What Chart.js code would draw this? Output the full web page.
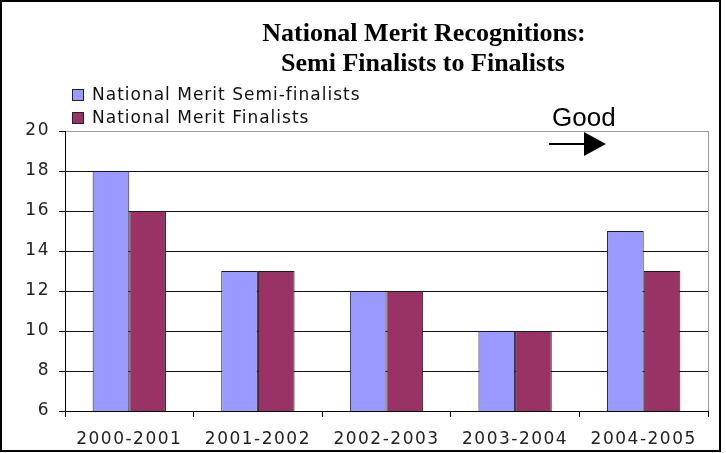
<!DOCTYPE html>
<html>
<head>
<meta charset="utf-8">
<script src="https://cdn.jsdelivr.net/npm/chart.js@4"></script>
<style>
  html, body { margin: 0; padding: 0; background: #fff; }
  #wrap { width: 726px; height: 453px; }
</style>
</head>
<body>
<div id="wrap"><canvas id="myChart" width="726" height="453"></canvas></div>
<script>
// chart data
const years = ['2000-2001', '2001-2002', '2002-2003', '2003-2004', '2004-2005'];
const semiFinalists = [18, 13, 12, 10, 15];
const finalists = [16, 13, 12, 10, 13];
const seriesNames = ['National Merit Semi-finalists', 'National Merit Finalists'];
const titleLines = ['National Merit Recognitions:', 'Semi Finalists to Finalists'];
const noteText = 'Good';
const yMin = 6, yMax = 20, yStep = 2;

const ctx = document.getElementById('myChart').getContext('2d');

// wider spacing for the axis text (the original uses a wide sans font)
const spacing = {
    id: 'spacing',
    beforeLayout: function (chart) { chart.ctx.letterSpacing = '1.5px'; },
    beforeDraw: function (chart) { chart.ctx.letterSpacing = '1.5px'; }
};

// title, legend, arrow note and frame drawn by hand
const decorations = {
    id: 'decorations',
    afterDraw: function (chart) {
        var c = chart.ctx;
        var area = chart.chartArea;
        c.save();
        c.letterSpacing = '0px';

        // plot area right edge
        c.strokeStyle = '#999';
        c.lineWidth = 1;
        c.beginPath();
        c.moveTo(Math.round(area.right) + 0.5, area.top);
        c.lineTo(Math.round(area.right) + 0.5, area.bottom);
        c.stroke();

        // outer frame
        c.strokeStyle = '#000';
        c.lineWidth = 2;
        c.strokeRect(1, 1, 719, 450);

        // title
        c.fillStyle = '#000';
        c.font = 'bold 26px "Liberation Serif"';
        c.textAlign = 'center';
        c.textBaseline = 'alphabetic';
        c.fillText(titleLines[0], 424, 41);
        c.fillText(titleLines[1], 423, 71);

        // legend
        c.font = '17px "DejaVu Sans"';
        c.letterSpacing = '1px';
        c.textAlign = 'left';
        c.textBaseline = 'middle';
        chart.data.datasets.forEach(function (ds, i) {
            var y = 95 + i * 23;
            c.fillStyle = ds.backgroundColor;
            c.fillRect(72, y - 6, 12, 12);
            c.strokeStyle = '#222';
            c.lineWidth = 1;
            c.strokeRect(72.5, y - 5.5, 11, 11);
            c.fillStyle = '#111';
            c.fillText(ds.label, 92, y + 1);
        });
        c.letterSpacing = '0px';

        // "Good" with arrow
        c.fillStyle = '#000';
        c.font = '26px "Liberation Sans"';
        c.textAlign = 'left';
        c.textBaseline = 'alphabetic';
        c.fillText(noteText, 552, 126);
        c.strokeStyle = '#000';
        c.lineWidth = 2;
        c.beginPath();
        c.moveTo(549, 144);
        c.lineTo(588, 144);
        c.stroke();
        c.beginPath();
        c.moveTo(584, 132);
        c.lineTo(606, 144);
        c.lineTo(584, 156);
        c.closePath();
        c.fill();

        c.restore();
    }
};

new Chart(ctx, {
    type: 'bar',
    data: {
        labels: years,
        datasets: [{
            label: seriesNames[0],
            data: semiFinalists,
            backgroundColor: '#9999FF',
            borderColor: '#1a1a1a',
            borderWidth: 1,
            borderSkipped: 'bottom'
        }, {
            label: seriesNames[1],
            data: finalists,
            backgroundColor: '#993366',
            borderColor: '#1a1a1a',
            borderWidth: 1,
            borderSkipped: 'bottom'
        }]
    },
    options: {
        responsive: false,
        animation: false,
        devicePixelRatio: 1,
        layout: { padding: { left: 0, top: 131, right: 18, bottom: 0 } },
        datasets: { bar: { categoryPercentage: 0.57, barPercentage: 1 } },
        plugins: {
            legend: { display: false },
            title: { display: false },
            tooltip: { enabled: false }
        },
        scales: {
            x: {
                afterFit: function (scale) { scale.height = 42; },
                grid: {
                    offset: true,
                    drawOnChartArea: false,
                    drawTicks: true,
                    tickLength: 6,
                    color: '#000'
                },
                border: { color: '#000', width: 1 },
                ticks: {
                    color: '#222',
                    font: { family: 'DejaVu Sans', size: 17 },
                    padding: 12,
                    maxRotation: 0
                }
            },
            y: {
                min: yMin,
                max: yMax,
                afterFit: function (scale) { scale.width = 65; },
                grid: {
                    color: function (c) { return c.tick && c.tick.value === yMax ? '#999' : '#111'; },
                    tickLength: 6,
                    tickColor: '#000'
                },
                border: { color: '#000', width: 1 },
                ticks: {
                    stepSize: yStep,
                    color: '#222',
                    font: { family: 'DejaVu Sans', size: 17 },
                    padding: 9
                }
            }
        }
    },
    plugins: [spacing, decorations]
});
</script>
</body>
</html>
